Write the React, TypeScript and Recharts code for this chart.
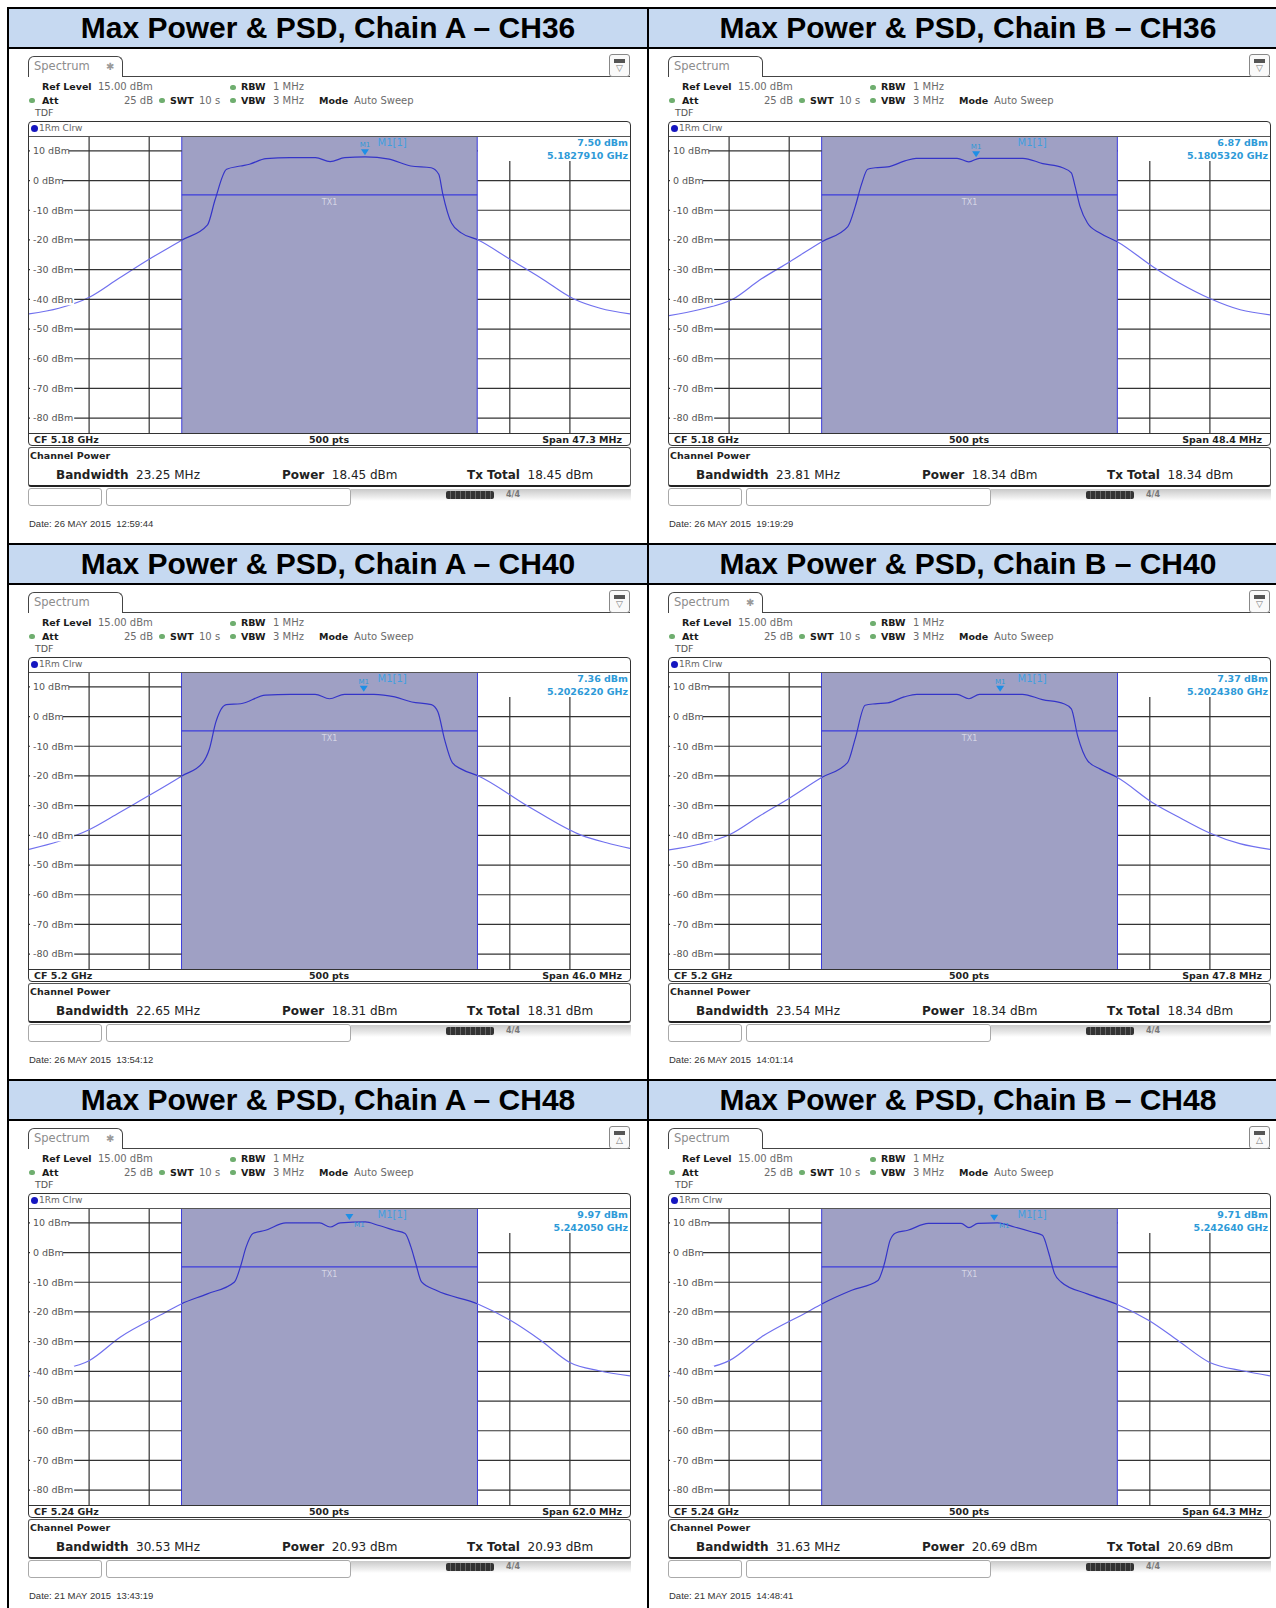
import React from "react";
import {
  LineChart,
  Line,
  XAxis,
  YAxis,
  ReferenceLine,
  ReferenceArea,
  ReferenceDot,
} from "recharts";

// panel order: A-CH36, B-CH36, A-CH40, B-CH40, A-CH48, B-CH48
const titles = [
  "Max Power & PSD, Chain A – CH36",
  "Max Power & PSD, Chain B – CH36",
  "Max Power & PSD, Chain A – CH40",
  "Max Power & PSD, Chain B – CH40",
  "Max Power & PSD, Chain A – CH48",
  "Max Power & PSD, Chain B – CH48",
];
const cfLabels = ["5.18 GHz", "5.18 GHz", "5.2 GHz", "5.2 GHz", "5.24 GHz", "5.24 GHz"];
const cfGHz = [5.18, 5.18, 5.2, 5.2, 5.24, 5.24];
const spanMHz = [47.3, 48.4, 46.0, 47.8, 62.0, 64.3];
const bandwidthMHz = [23.25, 23.81, 22.65, 23.54, 30.53, 31.63];
const channelPower = ["18.45", "18.34", "18.31", "18.34", "20.93", "20.69"];
const markerDbm = [7.5, 6.87, 7.36, 7.37, 9.97, 9.71];
const markerGHz = ["5.1827910", "5.1805320", "5.2026220", "5.2024380", "5.242050", "5.242640"];
const dateStamps = [
  "26 MAY 2015  12:59:44",
  "26 MAY 2015  19:19:29",
  "26 MAY 2015  13:54:12",
  "26 MAY 2015  14:01:14",
  "21 MAY 2015  13:43:19",
  "21 MAY 2015  14:48:41",
];
const starShown = [true, false, false, true, true, false];
const markerTagBelow = [false, false, false, false, true, true];
const yTicksDbm = [10, 0, -10, -20, -30, -40, -50, -60, -70, -80];
const REF_LEVEL = 15;
const BOTTOM_LEVEL = -85;
const txLevelDbm = -4.8;

// traces: frequency offset from CF (MHz) and level (dBm)
const freqA36 = [-23.65, -21.3, -18.9, -16.6, -14.2, -11.6, -9.6, -9.0, -8.1, -7.0, -6.3, -5.0, -3.1, -1.1, 0.05, 1.2, 2.8, 4.7, 6.4, 8.0, 8.6, 8.9, 9.6, 10.4, 11.7, 14.2, 16.6, 19.2, 21.3, 23.65];
const levelA36 = [-44.9, -43, -39.3, -33, -26.5, -20, -14.9, -6.4, 3.8, 4.9, 5.5, 7.4, 7.7, 7.7, 6.4, 7.7, 8.0, 7.2, 4.9, 4.3, 2.1, -4.2, -14.3, -17.7, -20, -26.5, -32.7, -39.8, -43, -44.9];

const freqB36 = [-24.2, -21.8, -19.0, -16.9, -14.5, -11.9, -9.8, -9.2, -8.7, -8.2, -7.6, -6.6, -5.2, -4.3, -1.0, -0.05, 0.8, 4.3, 5.9, 7.5, 8.2, 8.5, 8.9, 9.5, 10.5, 11.9, 14.8, 16.9, 19.4, 21.8, 24.2];
const levelB36 = [-45.5, -43.5, -39.8, -33.5, -27.4, -20.6, -15.5, -8.7, -1.3, 3.8, 4.3, 4.6, 6.6, 7.5, 7.5, 6.3, 7.5, 7.5, 5.7, 4.3, 2.6, -1.9, -8.7, -14.3, -17.7, -20.6, -29.1, -34.5, -39.8, -43.5, -45.2];

const freqA40 = [-23.0, -20.7, -18.4, -16.1, -14.8, -11.3, -9.7, -9.2, -8.7, -7.9, -6.8, -4.9, -3.0, -1.1, 0, 1.15, 3.4, 5.0, 6.3, 7.8, 8.3, 8.8, 9.4, 10.1, 11.4, 15.2, 19.3, 21.2, 23.0];
const levelA40 = [-44.7, -42, -38.1, -32.4, -29.1, -20, -15.5, -11, -1.9, 4, 4.3, 7.2, 7.5, 7.5, 6.0, 7.5, 7.5, 6.6, 4.9, 4.0, 1.5, -7.6, -15.5, -17.7, -20, -30.2, -40, -42.5, -44.4];

const freqB40 = [-23.9, -21.5, -19.1, -16.7, -14.3, -11.8, -9.7, -9.1, -8.3, -7.5, -6.5, -5.2, -4.2, -1.0, -0.05, 0.8, 4.2, 5.8, 7.5, 8.1, 8.6, 9.4, 10.4, 11.8, 14.6, 16.7, 19.1, 21.5, 23.9];
const levelB40 = [-44.9, -43, -39.8, -33.5, -27.4, -20.6, -15.5, -7.6, 3.8, 4.3, 4.6, 6.6, 7.5, 7.5, 6.0, 7.5, 7.5, 5.7, 4.3, 2.6, -6.5, -14.9, -17.7, -20.6, -29.1, -34, -39.2, -42.8, -44.7];

const freqA48 = [-31.0, -27.9, -24.8, -21.6, -16.9, -15.3, -12.6, -9.8, -9.2, -8.6, -7.9, -6.6, -4.5, -1.0, 0.06, 1.1, 3.7, 5.0, 6.7, 7.8, 8.4, 8.9, 9.5, 11.0, 15.3, 18.7, 21.8, 24.8, 27.8, 31.0];
const levelA48 = [-41.5, -39.5, -36.4, -28.5, -20.1, -17.3, -13.9, -9.9, -4.9, 1.9, 6.4, 7.5, 10, 10, 8.6, 10, 10.3, 9.2, 7.5, 6.4, 1.9, -3.7, -9.9, -12.7, -17.3, -22.9, -29.6, -37.0, -39.8, -41.5];

const freqB48 = [-32.15, -28.9, -25.7, -22.3, -17.4, -15.8, -12.6, -9.8, -9.1, -8.5, -7.9, -6.6, -4.4, -0.9, -0.06, 0.9, 3.0, 4.8, 6.6, 7.8, 8.5, 9.1, 9.8, 12.6, 15.7, 19.2, 22.3, 25.7, 29.2, 32.15];
const levelB48 = [-41.5, -39.5, -36.4, -28.5, -20.1, -17.3, -12.7, -9.4, -3.7, 4.1, 6.6, 7.5, 9.8, 9.8, 8.4, 9.8, 10, 8.6, 7.0, 5.8, -0.4, -7.1, -9.9, -13.9, -17.3, -22.9, -29.6, -37.0, -39.8, -41.5];

const traceFreqs = [freqA36, freqB36, freqA40, freqB40, freqA48, freqB48];
const traceLevels = [levelA36, levelB36, levelA40, levelB40, levelA48, levelB48];

const GRID_W = 601;
const GRID_H = 297;
const FONT = "'DejaVu Sans', Verdana, sans-serif";
const GRID_COLOR = "#333";
const REGION_FILL = "#9fa0c4";
const EDGE_BLUE = "#3c3cdc";
const MARKER_BLUE = "#2d9ad8";

function Txt({ x, y, children, bold, color, size, right, center, font }: any) {
  const fs = size || 10;
  let transform = "none";
  if (right) transform = "translateX(-100%)";
  if (center) transform = "translateX(-50%)";
  return (
    <div
      style={{
        position: "absolute",
        left: x,
        top: y - fs * 0.7,
        fontFamily: font || FONT,
        fontSize: fs,
        lineHeight: `${fs * 1.4}px`,
        fontWeight: bold ? 700 : 400,
        color: color || "#1a1a1a",
        whiteSpace: "pre",
        transform,
      }}
    >
      {children}
    </div>
  );
}

function Dot({ x, y }: any) {
  return (
    <div
      style={{
        position: "absolute",
        left: x,
        top: y - 2.5,
        width: 6,
        height: 5,
        borderRadius: 3,
        background: "#6fae6f",
      }}
    />
  );
}

function dbLabel(props: any, v: number) {
  const vb = props.viewBox || {};
  const text = `${v} dBm`;
  return (
    <g>
      <rect x={vb.x + 1} y={vb.y - 6} width={text.length * 5.6 + 5} height={12} fill="#fff" />
      <text x={vb.x + 4} y={vb.y + 3.3} fontSize={9.5} fill="#555" fontFamily={FONT}>
        {text}
      </text>
    </g>
  );
}

function makeMarkerShape(below: boolean) {
  return (props: any) => {
    const { cx, cy } = props;
    return (
      <g>
        <path d={`M${cx - 4},${cy - 9} L${cx + 4},${cy - 9} L${cx},${cy - 3} Z`} fill="#1e8fe6" />
        <text
          x={below ? cx + 10 : cx}
          y={below ? cy + 4 : cy - 11}
          fontSize={7}
          fill={MARKER_BLUE}
          textAnchor="middle"
          fontFamily={FONT}
        >
          M1
        </text>
      </g>
    );
  };
}

function SpectrumPlot({ i }: { i: number }) {
  const span = spanMHz[i];
  const half = span / 2;
  const bwHalf = bandwidthMHz[i] / 2;
  const rows = traceFreqs[i].map((f, k) => ({ f, level: traceLevels[i][k] }));
  const divs = Array.from({ length: 9 }, (_, k) => -half + ((k + 1) * span) / 10);
  const outside = divs.filter((x) => Math.abs(x) > bwHalf);
  const markerOffset = (parseFloat(markerGHz[i]) - cfGHz[i]) * 1000;
  const inL = 0.5 - bwHalf / span;
  const inR = 0.5 + bwHalf / span;
  const gid = `trace${i}`;
  return (
    <LineChart width={GRID_W} height={GRID_H} data={rows} margin={{ top: 0, right: 0, bottom: 0, left: 0 }}>
      <defs>
        <linearGradient id={gid} x1="0" y1="0" x2="1" y2="0">
          <stop offset={0} stopColor="#7070ee" />
          <stop offset={inL} stopColor="#7070ee" />
          <stop offset={inL} stopColor="#3434c8" />
          <stop offset={inR} stopColor="#3434c8" />
          <stop offset={inR} stopColor="#7070ee" />
          <stop offset={1} stopColor="#7070ee" />
        </linearGradient>
      </defs>
      <XAxis type="number" dataKey="f" domain={[-half, half]} hide allowDataOverflow />
      <YAxis type="number" domain={[BOTTOM_LEVEL, REF_LEVEL]} hide allowDataOverflow />
      {outside.map((x) => (
        <ReferenceLine key={`v${x}`} x={x} stroke={GRID_COLOR} strokeWidth={1.2} />
      ))}
      {yTicksDbm.map((v) => (
        <ReferenceLine
          key={`r${v}`}
          segment={[
            { x: bwHalf, y: v },
            { x: half, y: v },
          ]}
          stroke={GRID_COLOR}
          strokeWidth={1.2}
        />
      ))}
      <ReferenceArea
        x1={-bwHalf}
        x2={bwHalf}
        y1={BOTTOM_LEVEL}
        y2={REF_LEVEL}
        fill={REGION_FILL}
        fillOpacity={1}
        stroke="none"
      />
      <ReferenceLine x={-bwHalf} stroke={EDGE_BLUE} />
      <ReferenceLine x={bwHalf} stroke={EDGE_BLUE} />
      <ReferenceLine
        segment={[
          { x: -bwHalf, y: txLevelDbm },
          { x: bwHalf, y: txLevelDbm },
        ]}
        stroke={EDGE_BLUE}
        strokeWidth={1.3}
        label={{ value: "TX1", position: "bottom", fill: "#d6d6e6", fontSize: 8, fontFamily: FONT }}
      />
      <Line
        type="monotone"
        dataKey="level"
        stroke={`url(#${gid})`}
        strokeWidth={1.2}
        dot={false}
        isAnimationActive={false}
      />
      {yTicksDbm.map((v) => (
        <ReferenceLine
          key={`l${v}`}
          segment={[
            { x: -half, y: v },
            { x: -bwHalf, y: v },
          ]}
          stroke={GRID_COLOR}
          strokeWidth={1.2}
          label={{ content: (p: any) => dbLabel(p, v) }}
        />
      ))}
      <ReferenceDot x={markerOffset} y={markerDbm[i]} shape={makeMarkerShape(markerTagBelow[i])} />
    </LineChart>
  );
}

function Panel({ i, left, top }: { i: number; left: number; top: number }) {
  const span = spanMHz[i];
  const regionRight = GRID_W * (0.5 + bandwidthMHz[i] / 2 / span);
  const iconUp = i >= 4;
  const grey = "#6b6b6b";
  return (
    <div style={{ position: "absolute", left, top, width: 640, height: 496 }}>
      {/* tab */}
      <div
        style={{
          position: "absolute",
          left: 20,
          top: 8,
          width: 95,
          height: 21,
          boxSizing: "border-box",
          border: "1.5px solid #444",
          borderBottom: "none",
          borderRadius: "6px 6px 0 0",
          background: "#fff",
        }}
      />
      <Txt x={26} y={18.5} size={11.5} color="#8c8c8c">
        Spectrum
      </Txt>
      {starShown[i] && (
        <Txt x={98} y={18.5} size={10} color="#9a9a9a">
          ✱
        </Txt>
      )}
      <div style={{ position: "absolute", left: 115, top: 28, width: 507, borderTop: "1.5px solid #444" }} />
      <div
        style={{
          position: "absolute",
          left: 601,
          top: 6,
          width: 21,
          height: 23,
          boxSizing: "border-box",
          border: "1px solid #888",
          borderRadius: 3,
          background: "#fafafa",
        }}
      >
        <div style={{ position: "absolute", left: 4, top: 4, width: 11, height: 4, background: "#555" }} />
        <div
          style={{
            position: "absolute",
            left: 0,
            top: 8,
            width: 19,
            textAlign: "center",
            fontSize: 9,
            lineHeight: "11px",
            color: "#777",
            fontFamily: FONT,
          }}
        >
          {iconUp ? "△" : "▽"}
        </div>
      </div>

      {/* settings */}
      <Txt x={34} y={39} bold size={9.5}>
        Ref Level
      </Txt>
      <Txt x={90} y={39} color={grey}>
        15.00 dBm
      </Txt>
      <Dot x={222} y={39} />
      <Txt x={233} y={39} bold size={9.5}>
        RBW
      </Txt>
      <Txt x={265} y={39} color={grey}>
        1 MHz
      </Txt>
      <Dot x={21} y={52.5} />
      <Txt x={34} y={52.5} bold size={9.5}>
        Att
      </Txt>
      <Txt x={145} y={52.5} color={grey} right>
        25 dB
      </Txt>
      <Dot x={151} y={52.5} />
      <Txt x={162} y={52.5} bold size={9.5}>
        SWT
      </Txt>
      <Txt x={191} y={52.5} color={grey}>
        10 s
      </Txt>
      <Dot x={222} y={52.5} />
      <Txt x={233} y={52.5} bold size={9.5}>
        VBW
      </Txt>
      <Txt x={265} y={52.5} color={grey}>
        3 MHz
      </Txt>
      <Txt x={311} y={52.5} bold size={9.5}>
        Mode
      </Txt>
      <Txt x={346} y={52.5} color={grey}>
        Auto Sweep
      </Txt>
      <Txt x={27} y={65} color="#555" size={9.5}>
        TDF
      </Txt>

      {/* plot frame */}
      <div
        style={{
          position: "absolute",
          left: 20,
          top: 73,
          width: 603,
          height: 325,
          boxSizing: "border-box",
          border: "1.5px solid #333",
          borderRadius: 4,
        }}
      />
      <div
        style={{ position: "absolute", left: 23, top: 76.5, width: 7, height: 7, borderRadius: 4, background: "#1616c0" }}
      />
      <Txt x={31} y={80} color="#666" size={9}>
        1Rm Clrw
      </Txt>
      <div style={{ position: "absolute", left: 21, top: 88, width: GRID_W, height: GRID_H }}>
        <SpectrumPlot i={i} />
        <div style={{ position: "absolute", left: 0, top: -0.5, width: GRID_W, borderTop: "1px solid #555" }} />
        <div style={{ position: "absolute", left: 0, top: GRID_H - 0.5, width: GRID_W, borderTop: "1.5px solid #333" }} />
        <div
          style={{
            position: "absolute",
            left: regionRight + 1,
            top: 0.5,
            width: GRID_W - regionRight - 1,
            height: 24,
            background: "#fff",
          }}
        />
        <Txt x={GRID_W * 0.58} y={6.5} size={10} color="#3f9fe0">
          M1[1]
        </Txt>
        <Txt x={GRID_W - 2} y={6.5} size={9.5} color={MARKER_BLUE} bold right>
          {`${markerDbm[i].toFixed(2)} dBm`}
        </Txt>
        <Txt x={GRID_W - 2} y={19.5} size={9.5} color={MARKER_BLUE} bold right>
          {`${markerGHz[i]} GHz`}
        </Txt>
      </div>
      <Txt x={26} y={391.5} bold size={9.5} color="#222">
        {`CF ${cfLabels[i]}`}
      </Txt>
      <Txt x={321} y={391.5} bold size={9.5} color="#222" center>
        500 pts
      </Txt>
      <Txt x={614} y={391.5} bold size={9.5} color="#222" right>
        {`Span ${span.toFixed(1)} MHz`}
      </Txt>

      {/* channel power box */}
      <div
        style={{
          position: "absolute",
          left: 20,
          top: 399,
          width: 603,
          height: 40,
          boxSizing: "border-box",
          border: "1.5px solid #555",
          borderBottom: "2.5px solid #222",
          borderRadius: 3,
        }}
      />
      <Txt x={22} y={407.5} bold size={9.5} color="#222">
        Channel Power
      </Txt>
      <Txt x={48} y={427} size={12} color="#222">
        <b>Bandwidth</b>
        {`  ${bandwidthMHz[i].toFixed(2)} MHz`}
      </Txt>
      <Txt x={274} y={427} size={12} color="#222">
        <b>Power</b>
        {`  ${channelPower[i]} dBm`}
      </Txt>
      <Txt x={459} y={427} size={12} color="#222">
        <b>Tx Total</b>
        {`  ${channelPower[i]} dBm`}
      </Txt>

      {/* status bar */}
      <div
        style={{
          position: "absolute",
          left: 343,
          top: 441,
          width: 280,
          height: 12,
          background: "linear-gradient(to bottom, #c9c9c9, #eeeeee 70%, #ffffff)",
        }}
      />
      <div
        style={{
          position: "absolute",
          left: 20,
          top: 440,
          width: 74,
          height: 18,
          boxSizing: "border-box",
          border: "1px solid #aaa",
          borderRadius: 3,
          background: "#fff",
        }}
      />
      <div
        style={{
          position: "absolute",
          left: 98,
          top: 440,
          width: 245,
          height: 18,
          boxSizing: "border-box",
          border: "1px solid #aaa",
          borderRadius: 3,
          background: "#fff",
        }}
      />
      <div
        style={{
          position: "absolute",
          left: 438,
          top: 443,
          width: 48,
          height: 8,
          borderRadius: 2,
          background: "repeating-linear-gradient(to right, #333 0 4px, #666 4px 5px)",
        }}
      />
      <Txt x={498} y={447} size={8} color="#777" bold>
        4/4
      </Txt>

      <Txt x={21} y={476} size={9.5} color="#333" font="'Liberation Sans', Arial, sans-serif">
        {`Date: ${dateStamps[i]}`}
      </Txt>
    </div>
  );
}

export default function App() {
  const rowPitch = 536;
  return (
    <div
      style={{
        position: "absolute",
        left: 0,
        top: 0,
        width: 1276,
        height: 1608,
        overflow: "hidden",
        background: "#fff",
      }}
    >
      {[0, 1, 2].map((r) => (
        <div
          key={`h${r}`}
          style={{
            position: "absolute",
            left: 8,
            top: 8 + r * rowPitch,
            width: 1280,
            height: 40,
            background: "#c6d9f1",
          }}
        />
      ))}
      {titles.map((t, i) => {
        const c = i % 2;
        const r = Math.floor(i / 2);
        return (
          <div
            key={`t${i}`}
            style={{
              position: "absolute",
              left: 8 + c * 640,
              top: 8 + r * rowPitch,
              width: 640,
              height: 40,
              lineHeight: "40px",
              textAlign: "center",
              fontFamily: "'Liberation Sans', Arial, sans-serif",
              fontWeight: 700,
              fontSize: 30,
              color: "#000",
            }}
          >
            {t}
          </div>
        );
      })}
      {titles.map((_, i) => (
        <Panel key={`p${i}`} i={i} left={8 + (i % 2) * 640} top={48 + Math.floor(i / 2) * rowPitch} />
      ))}
      {/* table rules */}
      {[0, 1, 2].map((r) => (
        <React.Fragment key={`rule${r}`}>
          <div style={{ position: "absolute", left: 7, top: 7 + r * rowPitch, width: 1290, height: 2, background: "#000" }} />
          <div style={{ position: "absolute", left: 7, top: 47 + r * rowPitch, width: 1290, height: 2, background: "#000" }} />
        </React.Fragment>
      ))}
      <div style={{ position: "absolute", left: 7, top: 7, width: 2, height: 1620, background: "#000" }} />
      <div style={{ position: "absolute", left: 647, top: 7, width: 2, height: 1620, background: "#000" }} />
    </div>
  );
}
